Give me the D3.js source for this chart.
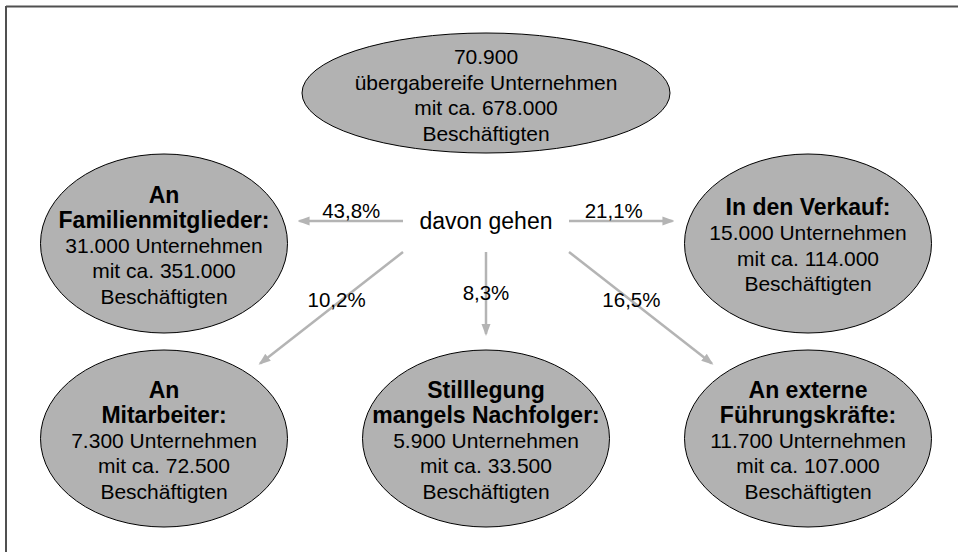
<!DOCTYPE html>
<html>
<head>
<meta charset="utf-8">
<script src="https://cdn.jsdelivr.net/npm/d3@7"></script>
<style>
  html, body { margin: 0; padding: 0; background: #fff; }
  svg { display: block; }
  text { font-family: "Liberation Sans", Arial, sans-serif; fill: #000; }
</style>
</head>
<body>
<svg id="chart" width="958" height="552"></svg>
<script>
// ---- data ----
const categories = ["Gesamt", "An Familienmitglieder", "In den Verkauf", "An Mitarbeiter", "Stilllegung mangels Nachfolger", "An externe Führungskräfte"];
const titleLines = [[], ["An", "Familienmitglieder:"], ["In den Verkauf:"], ["An", "Mitarbeiter:"], ["Stilllegung", "mangels Nachfolger:"], ["An externe", "Führungskräfte:"]];
const companies = [70900, 31000, 15000, 7300, 5900, 11700];
const employees = [678000, 351000, 114000, 72500, 33500, 107000];
const shares = [null, 43.8, 21.1, 10.2, 8.3, 16.5];
const hubLabel = "davon gehen";
const totalLabel = "übergabereife Unternehmen";

// ---- layout ----
const W = 958, H = 552;
const de = d3.formatLocale({ decimal: ",", thousands: ".", grouping: [3], currency: ["", " €"] });
const fmtInt = de.format(",d");
const fmtPct = de.format(",.1f");

const col = d3.scalePoint().domain(["left", "center", "right"]).range([164, 808]);
const row = d3.scaleOrdinal().domain(["top", "middle", "bottom"]).range([93, 243.5, 438.5]);
const slots = [
  { c: "center", r: "top", rx: 184, ry: 60 },
  { c: "left", r: "middle", rx: 123.5, ry: 89.5 },
  { c: "right", r: "middle", rx: 123.5, ry: 89.5 },
  { c: "left", r: "bottom", rx: 123.5, ry: 88.5 },
  { c: "center", r: "bottom", rx: 123.5, ry: 88.5 },
  { c: "right", r: "bottom", rx: 123.5, ry: 88.5 }
];

const nodes = categories.map((name, i) => {
  const s = slots[i];
  let lines;
  if (i === 0) {
    lines = [
      { t: fmtInt(companies[i]), bold: false },
      { t: totalLabel, bold: false },
      { t: "mit ca. " + fmtInt(employees[i]), bold: false },
      { t: "Beschäftigten", bold: false }
    ];
  } else {
    lines = titleLines[i].map(t => ({ t, bold: true })).concat([
      { t: fmtInt(companies[i]) + " Unternehmen", bold: false },
      { t: "mit ca. " + fmtInt(employees[i]), bold: false },
      { t: "Beschäftigten", bold: false }
    ]);
  }
  return { name, cx: col(s.c), cy: row(s.r), rx: s.rx, ry: s.ry, lines, share: shares[i] };
});

const svg = d3.select("#chart");

// frame (top + left lines)
svg.append("line").attr("x1", 6).attr("x2", W).attr("y1", 6.5).attr("y2", 6.5)
  .attr("stroke", "#505050").attr("stroke-width", 2);
svg.append("line").attr("x1", 6).attr("x2", 6).attr("y1", 6).attr("y2", H)
  .attr("stroke", "#505050").attr("stroke-width", 2);

// arrow marker
const arrowColor = "#b4b4b4";
svg.append("defs").append("marker")
  .attr("id", "arrow").attr("markerUnits", "userSpaceOnUse")
  .attr("viewBox", "0 -5 12 10").attr("markerWidth", 12).attr("markerHeight", 10)
  .attr("refX", 10).attr("refY", 0).attr("orient", "auto")
  .append("path").attr("d", "M0,-4.5L12,0L0,4.5Z").attr("fill", arrowColor);

// hub
const hub = { x: col("center"), y: 221 };
const hubHalfW = 83, hubBottom = 31;
const arrowSpecs = [
  null,
  { sx: -hubHalfW, sy: 0, mode: "h" },
  { sx: hubHalfW, sy: 0, mode: "h" },
  { sx: -hubHalfW, sy: hubBottom, mode: "d" },
  { sx: 0, sy: hubBottom, mode: "v" },
  { sx: hubHalfW, sy: hubBottom, mode: "d" }
];
const gap = 16;

const arrows = nodes.slice(1).map((n, k) => {
  const i = k + 1, spec = arrowSpecs[i];
  const sx = hub.x + spec.sx, sy = hub.y + spec.sy;
  let dx, dy;
  if (spec.mode === "h") { dx = Math.sign(n.cx - sx); dy = 0; }
  else if (spec.mode === "v") { dx = 0; dy = 1; }
  else {
    const L = Math.hypot(n.cx - sx, n.cy - sy);
    dx = (n.cx - sx) / L; dy = (n.cy - sy) / L;
  }
  const px = sx - n.cx, py = sy - n.cy;
  const a = (dx / n.rx) ** 2 + (dy / n.ry) ** 2;
  const b = 2 * (px * dx / (n.rx * n.rx) + py * dy / (n.ry * n.ry));
  const c = (px / n.rx) ** 2 + (py / n.ry) ** 2 - 1;
  const t = (-b - Math.sqrt(b * b - 4 * a * c)) / (2 * a);
  const ex = sx + (t - gap) * dx, ey = sy + (t - gap) * dy;
  return { x1: sx, y1: sy, x2: ex, y2: ey, mode: spec.mode, share: n.share };
});

svg.append("g").selectAll("line").data(arrows).join("line")
  .attr("x1", d => d.x1).attr("y1", d => d.y1)
  .attr("x2", d => d.x2).attr("y2", d => d.y2)
  .attr("stroke", arrowColor).attr("stroke-width", 2.5)
  .attr("marker-end", "url(#arrow)");

// ellipses
const g = svg.append("g").selectAll("g").data(nodes).join("g")
  .attr("transform", d => `translate(${d.cx},${d.cy})`);
g.append("ellipse")
  .attr("rx", d => d.rx).attr("ry", d => d.ry)
  .attr("fill", "#b2b2b2").attr("stroke", "#000").attr("stroke-width", 1);

const lineH = 25.5;
g.each(function (d) {
  const n = d.lines.length;
  d3.select(this).selectAll("text").data(d.lines).join("text")
    .attr("text-anchor", "middle")
    .attr("x", 0)
    .attr("y", (l, j) => (j - (n - 1) / 2) * lineH + 2)
    .attr("dy", "0.35em")
    .attr("font-size", l => l.bold ? 23 : 21)
    .attr("font-weight", l => l.bold ? "bold" : "normal")
    .text(l => l.t);
});

// hub label
svg.append("text").attr("x", hub.x).attr("y", hub.y).attr("dy", "0.35em")
  .attr("text-anchor", "middle").attr("font-size", 23).text(hubLabel);

// percentage labels
svg.append("g").selectAll("text").data(arrows).join("text")
  .attr("text-anchor", "middle")
  .attr("font-size", 20.5)
  .attr("x", d => (d.x1 + d.x2) / 2 + (d.mode === "d" ? (d.x2 < d.x1 ? 5 : -9) : (d.mode === "h" && d.x2 > d.x1 ? -7 : 0)))
  .attr("y", d => (d.y1 + d.y2) / 2 + (d.mode === "h" ? -10 : d.mode === "d" ? -8 : 0))
  .attr("dy", "0.35em")
  .text(d => fmtPct(d.share) + "%");
</script>
</body>
</html>
